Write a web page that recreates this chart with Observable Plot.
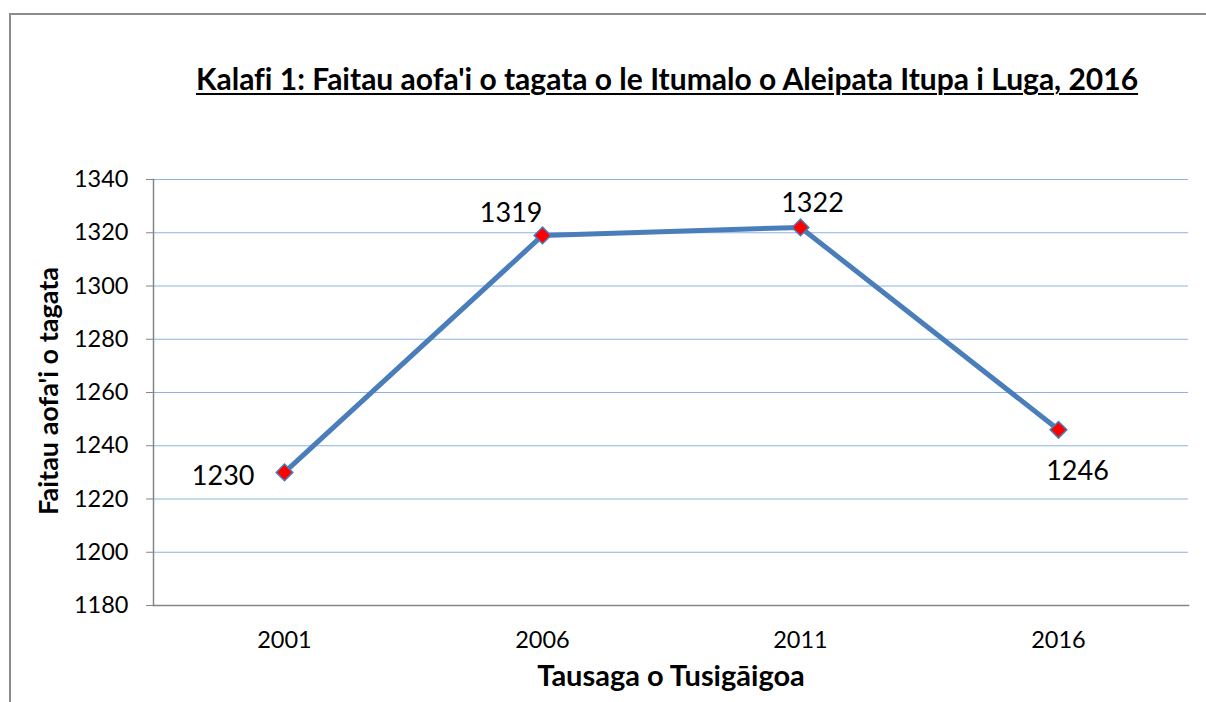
<!DOCTYPE html>
<html>
<head>
<meta charset="utf-8">
<script src="https://cdn.jsdelivr.net/npm/d3@7"></script>
<script src="https://cdn.jsdelivr.net/npm/@observablehq/plot@0.6"></script>
<style>
  html, body { margin: 0; padding: 0; background: #fff; }
  #wrap { position: relative; width: 1206px; height: 702px; overflow: hidden; font-family: Lato, "Open Sans", sans-serif; font-variant-ligatures: none; }
  #border { position: absolute; left: 9px; top: 13px; width: 1300px; height: 800px; border-top: 2px solid #8c8c8c; border-left: 2px solid #8c8c8c; box-sizing: border-box; }
  #title { position: absolute; top: 60px; left: 0; width: 1334px; text-align: center; font-weight: bold; font-size: 30px; line-height: 36px; text-decoration: underline; text-decoration-thickness: 2px; text-underline-offset: 3px; color: #000; white-space: nowrap; }
  #xlabel { position: absolute; top: 657px; left: 0; width: 1342px; text-align: center; font-weight: bold; font-size: 29px; line-height: 36px; color: #000; white-space: nowrap; }
  #ylabel { position: absolute; left: 48px; top: 391px; transform: translate(-50%, -50%) rotate(-90deg); font-weight: bold; font-size: 27px; line-height: 32px; color: #000; white-space: nowrap; }
  #chart { position: absolute; left: 0; top: 0; }
</style>
</head>
<body>
<div id="wrap">
  <div id="border"></div>
  <div id="chart"></div>
  <div id="title">Kalafi 1: Faitau aofa'i o tagata o le Itumalo o Aleipata Itupa i Luga, 2016</div>
  <div id="ylabel">Faitau aofa'i o tagata</div>
  <div id="xlabel">Tausaga o Tusigāigoa</div>
</div>
<script>
const years = ["2001", "2006", "2011", "2016"];
const population = [1230, 1319, 1322, 1246];
const yTicks = [1180, 1200, 1220, 1240, 1260, 1280, 1300, 1320, 1340];

const data = years.map((year, i) => ({year, value: population[i]}));

const lineColor = "#4a7ebb";
const gridColor = "#8db3e2";
const axisColor = "#868686";

const labelFor = (year, opts) => Plot.text(data, {
  filter: d => d.year === year,
  x: "year", y: "value", text: d => String(d.value),
  fontSize: 27, fill: "#000", ...opts
});

const chart = Plot.plot({
  width: 1206,
  height: 702,
  marginLeft: 153,
  marginRight: 18,
  marginTop: 179,
  marginBottom: 97,
  style: {fontFamily: "Lato, 'Open Sans', sans-serif", background: "transparent", color: "#000"},
  x: {type: "point", domain: years, padding: 0.5, label: null},
  y: {domain: [1180, 1340], label: null},
  marks: [
    Plot.gridY(yTicks, {stroke: gridColor, strokeOpacity: 1, strokeWidth: 1.2}),
    Plot.frame({anchor: "left", stroke: axisColor, strokeWidth: 1.5}),
    Plot.frame({anchor: "bottom", stroke: axisColor, strokeWidth: 1.5}),
    Plot.axisY(yTicks, {tickSize: 7, tickPadding: 18, tickFormat: "d", stroke: axisColor, fill: "#000", fontSize: 23.5, label: null}),
    Plot.axisX({tickSize: 0, tickPadding: 26, fill: "#000", fontSize: 23.5, label: null}),
    Plot.line(data, {x: "year", y: "value", stroke: lineColor, strokeWidth: 5}),
    Plot.dot(data, {x: "year", y: "value", symbol: "diamond2", r: 7.5, fill: "#ff0000", stroke: lineColor, strokeWidth: 1.5}),
    labelFor("2001", {textAnchor: "end", dx: -30, dy: 4}),
    labelFor("2006", {textAnchor: "end", dx: 0, dy: -22}),
    labelFor("2011", {textAnchor: "middle", dx: 12, dy: -24}),
    labelFor("2016", {textAnchor: "middle", dx: 19, dy: 42})
  ]
});
document.getElementById("chart").appendChild(chart);
</script>
</body>
</html>
